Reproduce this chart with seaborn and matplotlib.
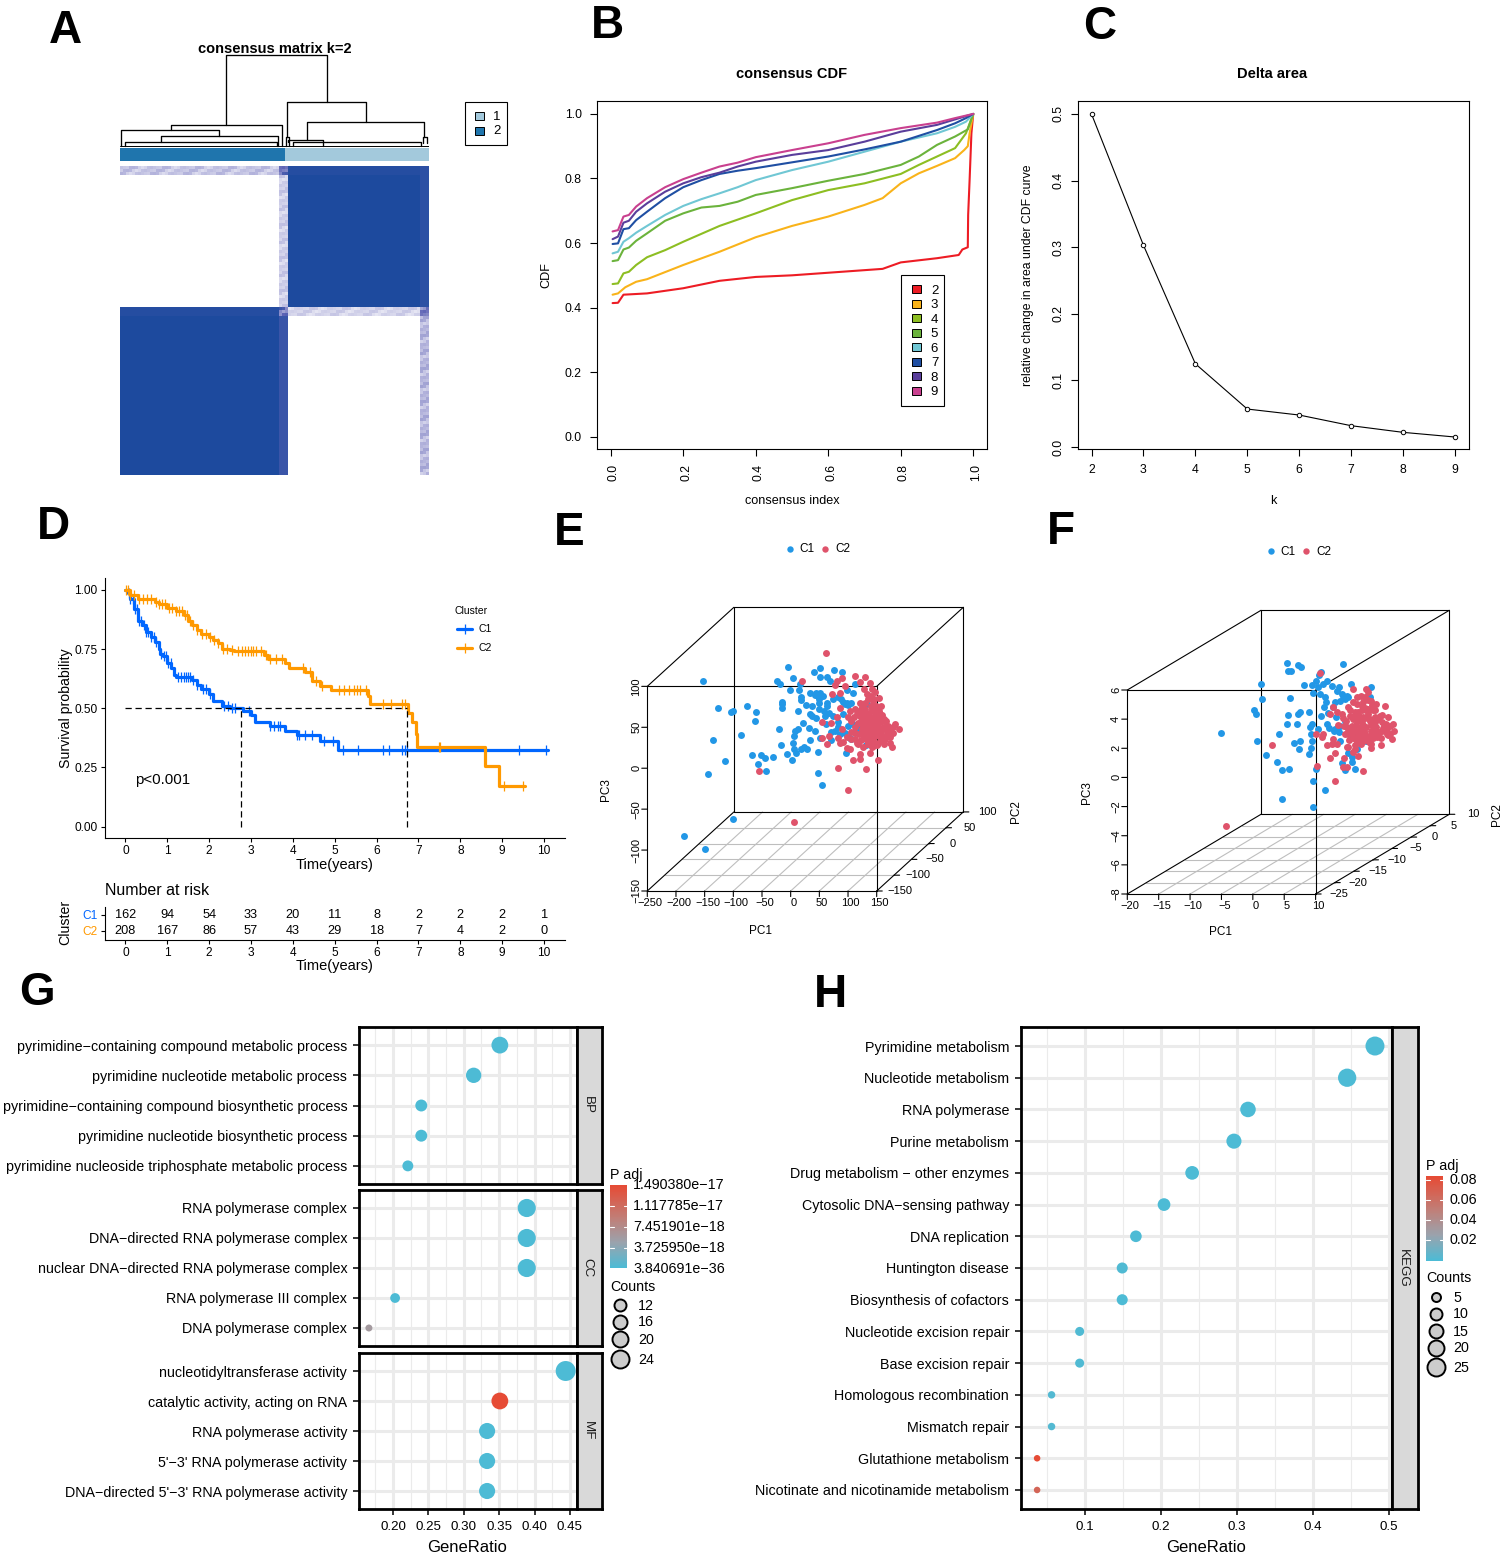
import numpy as np
import pandas as pd
import matplotlib
matplotlib.use("Agg")
import matplotlib.pyplot as plt
from matplotlib.colors import LinearSegmentedColormap, ListedColormap
from matplotlib.patches import Rectangle
from matplotlib.transforms import ScaledTranslation
import seaborn as sns

W, H = 1507, 1559

# ----------------------
# Panel A data
# ----------------------
row_sizes = [3, 44, 3, 53]
col_sizes = [53, 3, 44, 3]
block_values = [
    [0.24, 0.62, 0.96, 0.92],
    [0.00, 0.20, 1.00, 0.92],
    [0.96, 0.66, 0.18, 0.62],
    [1.00, 0.86, 0.00, 0.30],
]
texture = [1.0, 0.72, 1.2, 0.85, 1.1, 0.6, 1.3, 0.9, 1.05, 0.78, 1.25]
anno_clusters = [2, 1]
anno_sizes = [55, 48]
dend_left = [377, 212, 62, 184, 75, 562, 620, 565, 580, 968, 558]
dend_right = [680, 545, 358, 535, 530, 797, 973, 670, 962, 980, 567]
dend_top = [76, 286, 301, 319, 337, 217, 277, 331, 337, 320, 320]
dend_left_low = [286, 301, 347, 337, 347, 320, 331, 337, 347, 340, 347]
dend_right_low = [217, 347, 319, 347, 347, 277, 320, 347, 347, 340, 347]

# ----------------------
# Panel B / C data
# ----------------------
cdf_k = ["2", "3", "4", "5", "6", "7", "8", "9"]
cdf_colors = ["#ED1C24", "#F9B31A", "#8DBE22", "#6BB33C", "#70C7D4", "#1F4FA3", "#5A3E9B", "#C9408F"]
idx_k2 = [0.005, 0.02, 0.035, 0.1, 0.2, 0.3, 0.4, 0.5, 0.6, 0.7, 0.75, 0.8, 0.9, 0.96, 0.97, 0.985, 0.986, 0.99, 0.995, 1.0]
cdf_k2 = [0.414, 0.415, 0.44, 0.444, 0.46, 0.483, 0.495, 0.50, 0.508, 0.516, 0.52, 0.54, 0.553, 0.563, 0.58, 0.587, 0.687, 0.795, 0.94, 1.0]
idx_k3 = [0.005, 0.02, 0.04, 0.07, 0.1, 0.2, 0.3, 0.4, 0.5, 0.6, 0.7, 0.75, 0.8, 0.85, 0.9, 0.95, 0.975, 0.985, 0.99, 1.0]
cdf_k3 = [0.44, 0.444, 0.463, 0.48, 0.488, 0.532, 0.573, 0.618, 0.653, 0.682, 0.718, 0.739, 0.785, 0.816, 0.839, 0.863, 0.888, 0.90, 0.94, 1.0]
idx_k4 = [0.005, 0.02, 0.035, 0.05, 0.07, 0.1, 0.15, 0.2, 0.3, 0.4, 0.5, 0.6, 0.7, 0.8, 0.85, 0.9, 0.95, 0.98, 1.0]
cdf_k4 = [0.473, 0.475, 0.506, 0.511, 0.532, 0.556, 0.578, 0.604, 0.653, 0.692, 0.733, 0.764, 0.785, 0.814, 0.842, 0.868, 0.894, 0.94, 1.0]
idx_k5 = [0.005, 0.02, 0.035, 0.05, 0.07, 0.1, 0.15, 0.2, 0.25, 0.3, 0.35, 0.4, 0.5, 0.6, 0.7, 0.8, 0.85, 0.9, 0.95, 0.985, 1.0]
cdf_k5 = [0.544, 0.547, 0.58, 0.586, 0.607, 0.63, 0.669, 0.692, 0.71, 0.715, 0.728, 0.749, 0.77, 0.793, 0.814, 0.842, 0.868, 0.904, 0.93, 0.952, 1.0]
idx_k6 = [0.005, 0.02, 0.035, 0.05, 0.07, 0.1, 0.15, 0.2, 0.25, 0.3, 0.35, 0.4, 0.5, 0.6, 0.7, 0.8, 0.9, 0.95, 0.98, 1.0]
cdf_k6 = [0.568, 0.573, 0.604, 0.615, 0.632, 0.653, 0.687, 0.715, 0.736, 0.754, 0.773, 0.795, 0.826, 0.852, 0.883, 0.914, 0.94, 0.96, 0.976, 1.0]
idx_k7 = [0.005, 0.02, 0.035, 0.05, 0.07, 0.1, 0.15, 0.2, 0.25, 0.3, 0.35, 0.4, 0.5, 0.6, 0.7, 0.8, 0.9, 0.95, 0.98, 1.0]
cdf_k7 = [0.597, 0.599, 0.643, 0.646, 0.671, 0.697, 0.739, 0.773, 0.795, 0.814, 0.824, 0.832, 0.85, 0.868, 0.89, 0.914, 0.95, 0.971, 0.987, 1.0]
idx_k8 = [0.005, 0.02, 0.035, 0.05, 0.07, 0.1, 0.15, 0.2, 0.25, 0.3, 0.35, 0.4, 0.5, 0.6, 0.7, 0.8, 0.9, 0.95, 1.0]
cdf_k8 = [0.612, 0.62, 0.663, 0.669, 0.697, 0.723, 0.759, 0.785, 0.804, 0.818, 0.837, 0.852, 0.873, 0.888, 0.914, 0.945, 0.966, 0.983, 1.0]
idx_k9 = [0.005, 0.02, 0.035, 0.05, 0.07, 0.1, 0.15, 0.2, 0.25, 0.3, 0.35, 0.4, 0.5, 0.6, 0.7, 0.8, 0.9, 0.95, 1.0]
cdf_k9 = [0.636, 0.64, 0.682, 0.687, 0.713, 0.739, 0.773, 0.798, 0.818, 0.837, 0.849, 0.866, 0.888, 0.909, 0.935, 0.956, 0.973, 0.987, 1.0]
cdf_idx = [idx_k2, idx_k3, idx_k4, idx_k5, idx_k6, idx_k7, idx_k8, idx_k9]
cdf_vals = [cdf_k2, cdf_k3, cdf_k4, cdf_k5, cdf_k6, cdf_k7, cdf_k8, cdf_k9]

delta_k = [2, 3, 4, 5, 6, 7, 8, 9]
delta_area = [0.5, 0.303, 0.125, 0.057, 0.048, 0.032, 0.022, 0.015]

# ----------------------
# Panel D data
# ----------------------
c1_time = [0, 0.05, 0.1, 0.2, 0.3, 0.4, 0.5, 0.6, 0.7, 0.8, 0.82, 0.9, 1.0, 1.1, 1.15, 1.2, 1.6, 1.7, 1.8, 2.0, 2.1, 2.3, 2.5, 2.8, 3.0, 3.1, 3.45, 3.8, 4.1, 4.65, 5.08, 10.1]
c1_surv = [1.0, 0.985, 0.96, 0.92, 0.87, 0.85, 0.82, 0.80, 0.78, 0.75, 0.73, 0.72, 0.69, 0.67, 0.64, 0.63, 0.62, 0.60, 0.58, 0.56, 0.53, 0.51, 0.50, 0.49, 0.47, 0.44, 0.425, 0.405, 0.385, 0.36, 0.325, 0.325]
c2_time = [0, 0.1, 0.3, 0.7, 0.8, 1.0, 1.2, 1.4, 1.5, 1.6, 1.7, 1.8, 2.0, 2.1, 2.2, 2.3, 2.5, 2.6, 3.3, 3.4, 3.8, 3.9, 4.3, 4.45, 4.65, 4.9, 5.8, 5.85, 6.75, 6.85, 6.93, 6.97, 8.58, 8.93, 9.55]
c2_surv = [1.0, 0.98, 0.96, 0.95, 0.94, 0.925, 0.91, 0.895, 0.87, 0.85, 0.83, 0.815, 0.80, 0.79, 0.775, 0.75, 0.745, 0.74, 0.725, 0.71, 0.69, 0.67, 0.655, 0.615, 0.595, 0.575, 0.55, 0.52, 0.48, 0.44, 0.39, 0.335, 0.255, 0.17, 0.17]
c1_censor = [0.08, 0.12, 0.18, 0.22, 0.28, 0.33, 0.38, 0.45, 0.5, 0.55, 0.62, 0.68, 0.72, 0.85, 0.92, 0.97, 1.02, 1.08, 1.25, 1.32, 1.4, 1.45, 1.5, 1.55, 1.62, 1.72, 1.85, 1.92, 2.02, 2.35, 2.45, 2.55, 2.62, 2.95, 3.45, 3.55, 3.65, 3.7, 4.1, 4.15, 4.3, 4.45, 4.75, 4.95, 5.2, 5.55, 6.15, 6.3, 6.6, 6.68, 6.72, 9.4, 10.05]
c2_censor = [0.02, 0.05, 0.12, 0.2, 0.32, 0.42, 0.52, 0.62, 0.72, 0.8, 0.88, 0.95, 1.05, 1.12, 1.2, 1.28, 1.35, 1.42, 1.48, 1.55, 1.62, 1.72, 1.82, 1.92, 2.02, 2.12, 2.22, 2.32, 2.42, 2.55, 2.7, 2.78, 2.85, 2.92, 3.0, 3.05, 3.12, 3.25, 3.35, 3.45, 3.6, 3.75, 4.25, 4.4, 4.55, 4.7, 5.1, 5.22, 5.35, 5.45, 5.52, 5.6, 5.75, 6.15, 6.35, 6.6, 6.68, 7.48, 7.52, 9.05, 9.5]
median_c1 = 2.75
median_c2 = 6.72
risk_c1 = [162, 94, 54, 33, 20, 11, 8, 2, 2, 2, 1]
risk_c2 = [208, 167, 86, 57, 43, 29, 18, 7, 4, 2, 0]
risk_times = list(range(11))

# ----------------------
# Panel E data (PC1 / PC3 as seen on the projected box)
# ----------------------
e_c1_x = [-153, -127, -104, -100, -76, -60, -62, -87, -135, -115, -144, -67, -52, -44, -31, -57, -43, -100, -185.5, -149.5,
          47, 55, 2, -7, 9, -17.5, 3.5, 6, 17.5, 28, 23, 48, 34, 6, 7.5, 13, -20, 32, 22, 42.5, 51, -5, 51, 40, 75, 90,
          4, 52, 63, 68, -24, -19, 16, -2, 14.5, 18, 18, -15, -15, -15, 13, 26, 34, 45, 51, 50, 49, 49, 37, 34, 38, 45,
          62, 60, 63, 64, 73, 83, 92, 98, 106, 109, 98, 112, 74.5, 83, 92, 100.5, 109, 77, 83, 95, 103.5, 70, 106, 132.5,
          131, 96, 124, 115, 43, 47, 56, 58, 67, 88, 94, 100, 70, 86]
e_c1_z = [106.5, 73, 69, 70, 76, 68.5, 57.5, 41, 35, 9, -7.5, 16.5, 16.5, 12.5, 14, 5, -4, -61.5, -82.5, -98.5,
          -6, -21, 10, 17, 18, 28, 30.5, 24, 23, 24, 26, 20, 35, 39, 46, 48.5, 48.5, 49, 55, 45, 37.5, 124, 122.5, 117, 120, 117,
          110.5, 112, 111.5, 106, 106, 103, 103, 95, 95.5, 87, 83, 81.5, 78, 73.5, 70.5, 77.5, 92, 92, 92, 84.5, 80, 72, 76, 66, 64, 61,
          54, 64, 76, 80, 84, 86.5, 81, 79.5, 80, 92.5, 95, 103, 64, 57, 66, 52, 54, 45.5, 50, 43.5, 37.5, 35, 36, 78,
          28, 19, 52, 47.5, 90, 88, 88, 70, 68, 84, 78, 77, 44, 42]
e_c2_x = [62, 20, 113, 129, 90, 80, 77, 95, 121, 138, 127, 141, 147, 153.5, 132.5, 71.5, 86, 144, 157, 121, 112, 103.5, 86, 80, 100.5,
          54, 70, 121, 132.5, 144, 156, 162, 170, 182, 189, 179, 167, 173, 177, 162, 153, 144, 138, 130, 132.5, 141, 150, 150, 159,
          141, 127, 115, 106, 98, 103.5, 86, 63, 54, 66, 83, 112, 138, 121, 109, 121, 153, 83, 131, 99.5, -56, 6, 135, 147, 135, 147,
          127, 124, 135, 144, 156, 132.5, 144, 170, 125, 130, 138, 145, 152, 158, 165, 125, 132, 140, 148, 155, 162, 128, 136, 143,
          151, 118, 122, 128, 134, 140, 146, 152,
          105, 110, 115, 120, 125, 130, 135, 140, 112, 118, 124, 130, 136, 142, 148, 154, 160, 166, 172, 178, 120, 126, 132, 138, 144, 150,
          156, 162, 168, 174, 122, 128, 134, 140, 146, 152, 158, 164, 112, 118, 126, 134, 142, 150, 158, 138, 146, 154, 105, 98, 92, 90]
e_c2_z = [141, 106, 113, 112, 110, 107, 102, 101, 105, 104, 97, 97, 93, 86, 91, 91, 92.5, 82.5, 76, 80, 72, 70, 73, 63, 62,
          57, 55, 64, 66, 70, 66, 60, 52, 54, 48.5, 43.5, 39.5, 31, 26.5, 29, 31, 33, 39.5, 47.5, 56, 52, 47.5, 58, 47.5,
          43.5, 37.5, 31, 35.5, 25, 23, 31, 29, 37.5, 39.5, 37.5, 43.5, 19, 17, 10, 11.5, 10, 0, -1.5, -26, -4, -66, 29, 39.5, 60, 64,
          60, 47.5, 47.5, 45.5, 39.5, 35, 27, 43.5, 70, 72, 62, 55, 42, 36, 58, 54, 50, 44, 68, 60, 50, 40, 36, 32,
          28, 66, 58, 52, 46, 76, 84, 74,
          58, 62, 66, 70, 75, 80, 85, 88, 50, 55, 60, 64, 68, 72, 76, 70, 65, 58, 48, 50, 42, 45, 50, 54, 58, 62,
          56, 50, 44, 38, 34, 38, 42, 46, 50, 54, 42, 36, 36, 30, 26, 30, 26, 30, 34, 34, 38, 44, 44, 38, 32, 48]

# ----------------------
# Panel F data
# ----------------------
f_c1_x = [-5.0, 1.3, 1.45, 0.2, 0.5, 0.7, 2.1, 3.9, 4.65, 5.75, 4.65, 4.15, 5.4, 7.0, 5.6, 7.25, 7.5, 8.9, 6.0, 5.5, 5.65, 6.1, 7.2, 7.65,
          14.35, 10.85, 10.6, 10.05, 9.35, 8.1, 9.65, 10.45, 11.75, 11.2, 12.55, 13.8, 15.6, 18.8, 10.7, 11.5, 11.65, 11.35, 13.35, 14.15,
          14.95, 13.9, 14.7, 13.1, 12.8, 10.85, 12.0, 13.25, 9.35, 9.1, 9.2, 9.5, 6.55, 7.5, 7.35, 9.25, 8.9, 10.05, 9.6, 11.45, 9.6,
          10.45, 11.85, 13.1, 13.9, 14.7, 13.9, 16.0, 16.55, 15.2, 15.85, 15.75, 14.25, 14.7, 16.2, 18.1, 18.65, 13.0, 13.7, 14.4, 12.2, 15.2]
f_c1_z = [3.08, 6.43, 5.38, 4.63, 4.34, 2.49, 1.53, 1.05, 0.5, 0.55, -1.5, 3.0, 3.67, 3.7, 4.3, 4.35, 4.5, 4.5, 5.43, 7.87, 7.32, 7.32, 7.75, 7.55,
          7.8, 7.25, 7.0, 6.65, 6.35, 6.35, 5.8, 6.2, 6.65, 6.4, 6.3, 6.2, 6.4, 6.2, 5.73, 5.5, 5.15, 4.8, 5.95, 5.73,
          5.6, 5.27, 5.38, 5.15, 4.8, 4.2, 4.4, 4.13, 3.7, 3.45, 2.95, 2.53, 2.35, 2.53, 1.96, 2.0, 1.62, 0.55, -0.25, -0.86, -2.0,
          3.33, 3.67, 3.33, 3.56, 3.9, 2.49, 2.76, 1.96, 1.67, 1.4, 1.05, 1.0, 0.48, 0.6, 2.53, 5.5, 3.2, 3.1, 5.6, 3.4, 5.5]
f_c2_x = [10.75, 3.0, -4.35, 15.9, 18.0, 18.4, 12.8, 14.15, 12.3, 15.2, 13.35, 13.6, 10.05, 11.2, 11.0, 12.8, 12.55, 11.85, 13.35, 13.1, 12.3,
          14.5, 14.95, 16.3, 15.9, 16.8, 14.4, 15.0, 17.5, 13.1, 10.3, 18.8, 20.35, 14.7, 16.55, 17.6, 18.9, 19.7, 21.05, 16.3, 17.35, 18.4,
          19.45, 20.25, 21.6, 22.4, 22.5, 22.1, 21.3, 20.5, 19.7, 18.65, 17.6, 16.55, 15.75, 14.95, 17.05, 18.1, 18.9, 17.85, 16.8, 17.6,
          18.65, 16.55, 15.75, 19.45, 18.4, 17.35, 19.45, 20.5, 21.3, 15.5, 18.9, 16.9, 17.9, 18.6, 19.2, 17.2, 16.2, 15.2, 19.9, 20.9,
          15.5, 16, 16.6, 17.2, 17.8, 18.4, 19, 15.9, 16.3, 16.8, 17.4, 18, 18.6, 19.1, 15.2, 15.8, 16.4, 17, 17.6, 18.2, 18.8, 19.3, 20, 20.6,
          15.3, 15.9, 16.5, 17.1, 17.7, 18.3, 18.9, 19.5, 20.1, 20.7, 21.2, 21.8, 16.2, 16.9, 17.3, 17.9, 18.5, 19.1, 19.8, 14.5, 14.9, 15.1,
          14.3, 21.9, 21.5, 20.4]
f_c2_z = [7.2, 2.2, -3.35, 6.07, 6.07, 5.84, 4.8, 4.36, 4.36, 4.8, 4.47, 3.63, 2.95, 3.0, 2.76, 2.65, 2.3, 2.2, 2.3, 1.67, 1.3,
          1.3, 2.08, 1.96, 1.75, 1.5, 0.7, 0.7, 0.44, -0.27, 0.8, 2.0, 2.2, 3.0, 5.04, 5.15, 5.27, 5.04, 4.93, 4.47, 4.6, 4.7,
          4.6, 4.25, 4.13, 3.67, 3.2, 2.65, 3.33, 3.2, 3.45, 3.9, 4.13, 3.9, 3.56, 3.45, 3.45, 3.45, 3.2, 3.0, 3.0, 2.53,
          2.65, 2.42, 3.0, 4.13, 4.36, 3.9, 3.79, 3.79, 3.0, 4.25, 2.3, 4.25, 4.75, 2.85, 3.6, 2.75, 2.7, 2.95, 2.95, 3.55,
          4.6, 5.2, 5.5, 5.6, 5.5, 5.3, 5.0, 4.0, 4.2, 4.5, 4.9, 4.6, 4.0, 4.6, 3.2, 3.3, 3.6, 4.1, 3.6, 4.1, 3.6, 3.4, 4.0, 4.3,
          2.6, 2.7, 3.2, 3.2, 3.2, 2.8, 2.9, 3.1, 3.1, 3.4, 3.7, 3.5, 2.2, 2.5, 2.3, 2.6, 2.4, 2.7, 2.8, 3.5, 3.9, 2.1,
          4.1, 3.0, 2.9, 2.7]

# ----------------------
# Panel G / H data
# ----------------------
bp_terms = ["pyrimidine\u2212containing compound metabolic process", "pyrimidine nucleotide metabolic process",
            "pyrimidine\u2212containing compound biosynthetic process", "pyrimidine nucleotide biosynthetic process",
            "pyrimidine nucleoside triphosphate metabolic process"]
bp_ratio = [0.351, 0.314, 0.24, 0.24, 0.221]
bp_counts = [19, 17, 13, 13, 12]
bp_padj = [1e-30, 1e-30, 1e-24, 1e-24, 1e-22]
cc_terms = ["RNA polymerase complex", "DNA\u2212directed RNA polymerase complex", "nuclear DNA\u2212directed RNA polymerase complex",
            "RNA polymerase III complex", "DNA polymerase complex"]
cc_ratio = [0.389, 0.389, 0.389, 0.203, 0.166]
cc_counts = [21, 21, 21, 11, 9]
cc_padj = [3.84e-36, 3.84e-36, 3.84e-36, 1e-20, 5.6e-18]
mf_terms = ["nucleotidyltransferase activity", "catalytic activity, acting on RNA", "RNA polymerase activity",
            "5'\u22123' RNA polymerase activity", "DNA\u2212directed 5'\u22123' RNA polymerase activity"]
mf_ratio = [0.444, 0.351, 0.333, 0.333, 0.333]
mf_counts = [24, 19, 18, 18, 18]
mf_padj = [1e-30, 1.49e-17, 1e-30, 1e-30, 1e-30]
go_ticks = [0.20, 0.25, 0.30, 0.35, 0.40, 0.45]
go_minor = [0.175, 0.225, 0.275, 0.325, 0.375, 0.425]
go_bar_labels = ["1.490380e\u221217", "1.117785e\u221217", "7.451901e\u221218", "3.725950e\u221218", "3.840691e\u221236"]
go_count_labels = ["12", "16", "20", "24"]

kegg_terms = ["Pyrimidine metabolism", "Nucleotide metabolism", "RNA polymerase", "Purine metabolism",
              "Drug metabolism \u2212 other enzymes", "Cytosolic DNA\u2212sensing pathway", "DNA replication", "Huntington disease",
              "Biosynthesis of cofactors", "Nucleotide excision repair", "Base excision repair", "Homologous recombination",
              "Mismatch repair", "Glutathione metabolism", "Nicotinate and nicotinamide metabolism"]
kegg_ratio = [0.4816, 0.445, 0.3145, 0.296, 0.241, 0.204, 0.167, 0.149, 0.149, 0.093, 0.093, 0.056, 0.056, 0.037, 0.037]
kegg_counts = [26, 24, 17, 16, 13, 11, 9, 8, 8, 5, 5, 3, 3, 2, 2]
kegg_padj = [1e-9, 1e-9, 1e-6, 1e-9, 1e-5, 1e-4, 1e-5, 1e-3, 1e-4, 1e-3, 1e-3, 2e-3, 2e-3, 0.085, 0.068]
kegg_ticks = [0.1, 0.2, 0.3, 0.4, 0.5]
kegg_minor = [0.05, 0.15, 0.25, 0.35, 0.45]
kegg_bar_labels = ["0.08", "0.06", "0.04", "0.02"]
kegg_count_labels = ["5", "10", "15", "20", "25"]

# ----------------------
# Style
# ----------------------
sns.set_style("ticks", rc={"axes.edgecolor": "black", "text.color": "black", "xtick.color": "black",
                           "ytick.color": "black", "axes.labelcolor": "black"})
plt.rcParams["font.family"] = ["Liberation Sans", "DejaVu Sans"]
plt.rcParams["axes.linewidth"] = 0.8

PX = 0.72
C_BLUE, C_RED = "#2297E6", "#DF536B"
KM_BLUE, KM_ORANGE = "#0066FF", "#FF9900"
padj_cmap = LinearSegmentedColormap.from_list("padj", [(0, "#4DBBD5"), (0.3, "#9AA3AD"), (0.6, "#C07F78"), (1, "#E64B35")])
consensus_cmap = LinearSegmentedColormap.from_list("cons", [(0, "#FFFFFF"), (0.3, "#B4B4DC"), (0.7, "#5C62B4"), (1, "#1D4A9E")])

fig = plt.figure(figsize=(W / 100, H / 100), dpi=100, facecolor="white")


def add_ax(left, top, right, bottom, **kw):
    return fig.add_axes([left / W, 1 - bottom / H, (right - left) / W, (bottom - top) / H], **kw)


overlay = add_ax(0, 0, W, H, zorder=20)
overlay.set_xlim(0, W)
overlay.set_ylim(H, 0)
overlay.axis("off")
overlay.patch.set_alpha(0)
overlay.autoscale(False)


def label(x, y, s, size=9, **kw):
    kw.setdefault("ha", "center")
    kw.setdefault("va", "center")
    overlay.text(x, y, s, fontsize=size, **kw)


def nudge_labels(labels, dx_px=0, dy_px=0):
    # move tick labels by a few pixels, the rotated ones sit off centre
    shift = ScaledTranslation(dx_px / 100, dy_px / 100, fig.dpi_scale_trans)
    for t in labels:
        t.set_transform(t.get_transform() + shift)


# ----------------------
# Panel letters
# ----------------------
for letter, lx, ly in [("A", 65, 31), ("B", 607, 26), ("C", 1100, 27), ("D", 53, 527),
                       ("E", 569, 533), ("F", 1061, 532), ("G", 37, 993), ("H", 830, 995)]:
    label(lx, ly, letter, size=33, fontweight="bold")

# ----------------------
# Panel A
# ----------------------
matrix = np.repeat(np.repeat(np.array(block_values, dtype=float), row_sizes, axis=0), col_sizes, axis=1)
for r in range(matrix.shape[0]):
    for c in range(matrix.shape[1]):
        if 0.02 < matrix[r, c] < 0.7:
            matrix[r, c] *= texture[(r * 3 + c * 7) % len(texture)]
ax_heat = add_ax(120, 166, 429, 475)
sns.heatmap(np.clip(matrix, 0, 1), ax=ax_heat, cmap=consensus_cmap, vmin=0, vmax=1, cbar=False,
            xticklabels=False, yticklabels=False)
ax_heat.tick_params(length=0)

anno = np.repeat(np.array(anno_clusters), anno_sizes).reshape(1, -1)
ax_anno = add_ax(120, 148, 429, 161)
sns.heatmap(anno, ax=ax_anno, cmap=ListedColormap(["#A3C9DC", "#1F75AD"]), cbar=False,
            xticklabels=False, yticklabels=False)
ax_anno.tick_params(length=0)

ax_dend = add_ax(120, 54, 429, 148)
ax_dend.set_xlim(60, 987)
ax_dend.set_ylim(354, 72)
ax_dend.axis("off")
for xl, xr, yt, yl, yr in zip(dend_left, dend_right, dend_top, dend_left_low, dend_right_low):
    ax_dend.plot([xl, xl, xr, xr], [yl, yt, yt, yr], color="black", lw=0.95, clip_on=False)
sns.lineplot(x=[60, 987], y=[347, 347], ax=ax_dend, color="black", lw=0.7)
label(274.5, 49, "consensus matrix k=2", size=10.5, fontweight="bold")

overlay.add_patch(Rectangle((464.5, 101.5), 42, 43, fill=False, ec="black", lw=0.8))
overlay.add_patch(Rectangle((474.5, 111.5), 9, 8, fc="#A3C9DC", ec="black", lw=0.7))
overlay.add_patch(Rectangle((474.5, 126.5), 9, 8, fc="#1F75AD", ec="black", lw=0.7))
label(497, 117, "1", size=9.5)
label(497, 131, "2", size=9.5)

# ----------------------
# Panel B
# ----------------------
ax_cdf = add_ax(597, 101, 987, 449)
for name, color, xs, ys in zip(cdf_k, cdf_colors, cdf_idx, cdf_vals):
    sns.lineplot(x=xs, y=ys, ax=ax_cdf, color=color, lw=1.5, estimator=None, errorbar=None)
ax_cdf.set_xlim(-0.038, 1.038)
ax_cdf.set_ylim(-0.038, 1.04)
ax_cdf.set_xticks([0, 0.2, 0.4, 0.6, 0.8, 1.0])
ax_cdf.set_xticklabels(["0.0", "0.2", "0.4", "0.6", "0.8", "1.0"], rotation=90, fontsize=8.8)
ax_cdf.set_yticks([0, 0.2, 0.4, 0.6, 0.8, 1.0])
ax_cdf.set_yticklabels(["0.0", "0.2", "0.4", "0.6", "0.8", "1.0"], fontsize=8.8)
ax_cdf.tick_params(length=5, width=0.8, pad=6)
nudge_labels(ax_cdf.get_xticklabels(), dx_px=3)
label(792, 74, "consensus CDF", size=10.5, fontweight="bold")
label(792, 501, "consensus index", size=9.1)
label(546, 275, "CDF", size=9.1, rotation=90)
overlay.add_patch(Rectangle((900.5, 274.5), 43, 131, fill=False, ec="black", lw=0.8))
for i, (name, color) in enumerate(zip(cdf_k, cdf_colors)):
    overlay.add_patch(Rectangle((911.5, 285 + i * 14.5), 9, 8, fc=color, ec="black", lw=0.7))
    label(934.5, 290.5 + i * 14.5, name, size=9.5)

# ----------------------
# Panel C
# ----------------------
ax_delta = add_ax(1078, 101, 1469, 449)
sns.lineplot(x=delta_k, y=delta_area, ax=ax_delta, color="black", lw=0.8, marker="o", markersize=3.2,
             markerfacecolor="white", markeredgecolor="black", markeredgewidth=0.7, errorbar=None)
ax_delta.set_xlim(1.74, 9.27)
ax_delta.set_ylim(-0.003, 0.5195)
ax_delta.set_xticks(delta_k)
ax_delta.set_xticklabels([str(k) for k in delta_k], fontsize=8.8)
ax_delta.set_yticks([0, 0.1, 0.2, 0.3, 0.4, 0.5])
ax_delta.set_yticklabels(["0.0", "0.1", "0.2", "0.3", "0.4", "0.5"], rotation=90, va="center", fontsize=8.8)
ax_delta.tick_params(length=5, width=0.8, pad=6)
nudge_labels(ax_delta.get_yticklabels(), dx_px=2)
label(1272, 74, "Delta area", size=10.5, fontweight="bold")
label(1273, 501, "k", size=9.1)
label(1028, 275, "relative change in area under CDF curve", size=8.8, rotation=90)

# ----------------------
# Panel D
# ----------------------
ax_km = add_ax(104.5, 578, 565, 838)
sns.despine(ax=ax_km)
for times, surv, censor, color in [(c1_time, c1_surv, c1_censor, KM_BLUE), (c2_time, c2_surv, c2_censor, KM_ORANGE)]:
    sns.lineplot(x=times, y=surv, ax=ax_km, color=color, lw=2.3, drawstyle="steps-post", estimator=None, errorbar=None)
    pos = np.searchsorted(times, censor, side="right") - 1
    ax_km.plot(censor, np.array(surv)[pos], ls="none", marker="|", ms=6.5, mew=0.9, color=color)
ax_km.plot([0, median_c2], [0.5, 0.5], color="black", lw=0.9, dashes=(5, 3))
ax_km.plot([median_c1, median_c1], [0, 0.5], color="black", lw=0.9, dashes=(5, 3))
ax_km.plot([median_c2, median_c2], [0, 0.5], color="black", lw=0.9, dashes=(5, 3))
ax_km.set_xlim(-0.5, 10.5)
ax_km.set_ylim(-0.048, 1.05)
ax_km.set_xticks(risk_times)
ax_km.set_yticks([0, 0.25, 0.5, 0.75, 1.0])
ax_km.set_yticklabels(["0.00", "0.25", "0.50", "0.75", "1.00"])
ax_km.tick_params(labelsize=8.6, length=3, width=0.8, pad=2)
ax_km.text(0.22, 0.195, "p<0.001", fontsize=10.8, va="center")
label(335, 865, "Time(years)", size=10.5)
label(66, 708, "Survival probability", size=10.2, rotation=90)
label(471.5, 610.5, "Cluster", size=7.5)
for ly, name, color in [(629, "C1", KM_BLUE), (647.5, "C2", KM_ORANGE)]:
    overlay.plot([457, 472], [ly, ly], color=color, lw=2.3)
    overlay.plot([464.5], [ly], marker="|", ms=6.5, mew=0.9, color=color)
    label(485, ly, name, size=7.5)

ax_risk = add_ax(104.5, 906.5, 565, 940)
sns.despine(ax=ax_risk)
ax_risk.set_xlim(-0.5, 10.5)
ax_risk.set_ylim(-0.59, 1.53)
ax_risk.set_xticks(risk_times)
ax_risk.set_yticks([0, 1])
ax_risk.set_yticklabels(["C2", "C1"])
ax_risk.get_yticklabels()[0].set_color(KM_ORANGE)
ax_risk.get_yticklabels()[1].set_color(KM_BLUE)
ax_risk.tick_params(labelsize=8.6, length=3, width=0.8, pad=2)
for t, a, b in zip(risk_times, risk_c1, risk_c2):
    ax_risk.text(t, 1, str(a), ha="center", va="center", fontsize=9.2)
    ax_risk.text(t, 0, str(b), ha="center", va="center", fontsize=9.2)
label(105, 890, "Number at risk", size=11.5, ha="left")
label(335, 966, "Time(years)", size=10.5)
label(65, 922, "Cluster", size=10.2, rotation=90)


# ----------------------
# Panels E, F
# ----------------------
def box3d(ax, xt, zt, yt, dx, dz, c1x, c1z, c2x, c2z, xoff):
    x0, x1, z0, z1 = xt[0], xt[-1], zt[0], zt[-1]
    ax.set_xlim(x0, x1 + dx)
    ax.set_ylim(z0, z1 + dz)
    ax.axis("off")
    n = len(yt) - 1
    for i in range(1, n):
        f = i / n
        ax.plot([x0 + dx * f, x1 + dx * f], [z0 + dz * f, z0 + dz * f], color="#BEBEBE", lw=0.8)
    for t in xt[1:-1]:
        ax.plot([t, t + dx], [z0, z0 + dz], color="#BEBEBE", lw=0.8)
    ax.plot([x0, x1, x1, x0, x0], [z0, z0, z1, z1, z0], color="black", lw=0.8, clip_on=False)
    ax.plot([x0 + dx, x1 + dx, x1 + dx, x0 + dx, x0 + dx],
            [z0 + dz, z0 + dz, z1 + dz, z1 + dz, z0 + dz], color="black", lw=0.8, clip_on=False)
    for xa, za in [(x0, z0), (x1, z0), (x0, z1), (x1, z1)]:
        ax.plot([xa, xa + dx], [za, za + dz], color="black", lw=0.8, clip_on=False)
    for t in xt:
        ax.annotate("", (t, z0), xytext=(0, -4), textcoords="offset points",
                    arrowprops=dict(arrowstyle="-", lw=0.8, color="black", shrinkA=0, shrinkB=0), annotation_clip=False)
        ax.annotate(str(t).replace("-", "\u2212"), (t, z0), xytext=(xoff, -8.5), textcoords="offset points",
                    ha="center", va="center", fontsize=8, annotation_clip=False)
    for t in zt:
        ax.annotate("", (x0, t), xytext=(-4, 0), textcoords="offset points",
                    arrowprops=dict(arrowstyle="-", lw=0.8, color="black", shrinkA=0, shrinkB=0), annotation_clip=False)
        ax.annotate(str(t).replace("-", "\u2212"), (x0, t), xytext=(-8, 0), textcoords="offset points",
                    rotation=90, ha="center", va="center", fontsize=8, annotation_clip=False)
    for i, t in enumerate(yt):
        f = i / n
        xa, za = x1 + dx * f, z0 + dz * f
        ax.annotate("", (xa, za), xytext=(4, 0), textcoords="offset points",
                    arrowprops=dict(arrowstyle="-", lw=0.8, color="black", shrinkA=0, shrinkB=0), annotation_clip=False)
        ax.annotate(str(t).replace("-", "\u2212"), (xa, za), xytext=(17, 0), textcoords="offset points",
                    ha="center", va="center", fontsize=8, annotation_clip=False)
    sns.scatterplot(x=c1x, y=c1z, ax=ax, color=C_BLUE, s=25, linewidth=0, zorder=5, clip_on=False, legend=False)
    sns.scatterplot(x=c2x, y=c2z, ax=ax, color=C_RED, s=25, linewidth=0, zorder=6, clip_on=False, legend=False)
    ax.set_xlabel("")
    ax.set_ylabel("")


ax_e = add_ax(647.3, 607.3, 963.3, 891)
box3d(ax_e, [-250, -200, -150, -100, -50, 0, 50, 100, 150], [-150, -100, -50, 0, 50, 100], [-150, -100, -50, 0, 50, 100],
      151, 96.6, e_c1_x, e_c1_z, e_c2_x, e_c2_z, 2)
label(761, 931, "PC1", size=8.5)
label(606, 790, "PC3", size=8.5, rotation=90)
label(1016, 812, "PC2", size=8.5, rotation=90)
overlay.plot([790], [548.7], marker="o", ms=4.6, mew=0, color=C_BLUE)
overlay.plot([825], [548.7], marker="o", ms=4.6, mew=0, color=C_RED)
label(807, 549, "C1", size=8.5)
label(842.5, 549, "C2", size=8.5)

ax_f = add_ax(1127.3, 610.3, 1449.3, 894)
box3d(ax_f, [-20, -15, -10, -5, 0, 5, 10], [-8, -6, -4, -2, 0, 2, 4, 6], [-25, -20, -15, -10, -5, 0, 5, 10],
      21.3, 5.47, f_c1_x, f_c1_z, f_c2_x, f_c2_z, 2)
label(1220, 932, "PC1", size=8.5)
label(1087, 793, "PC3", size=8.5, rotation=90)
label(1497, 815, "PC2", size=8.5, rotation=90)
overlay.plot([1270.7], [551.3], marker="o", ms=4.6, mew=0, color=C_BLUE)
overlay.plot([1306], [551.3], marker="o", ms=4.6, mew=0, color=C_RED)
label(1287.5, 552, "C1", size=8.5)
label(1323.5, 552, "C2", size=8.5)


# ----------------------
# Panels G, H
# ----------------------
def dot_panel(rect, strip_right, terms, ratio, counts, padj, xlim, ticks, minor, size_norm, sizes, hue_norm, strip, show_x, strip_x):
    ax = add_ax(*rect)
    df = pd.DataFrame({"term": terms, "ratio": ratio, "counts": counts, "padj": padj})
    sns.scatterplot(data=df, x="ratio", y="term", hue="padj", size="counts", palette=padj_cmap, hue_norm=hue_norm,
                    size_norm=size_norm, sizes=sizes, linewidth=0, ax=ax, legend=False, zorder=5, clip_on=False)
    ax.set_xlim(*xlim)
    ax.set_ylim(len(terms) - 0.4, -0.6)
    ax.set_xticks(ticks)
    ax.set_xticks(minor, minor=True)
    ax.set_xlabel("")
    ax.set_ylabel("")
    ax.set_axisbelow(True)
    ax.grid(which="major", color="#EBEBEB", lw=2.2)
    ax.grid(which="minor", axis="x", color="#EBEBEB", lw=0.8)
    ax.tick_params(which="minor", length=0)
    ax.tick_params(which="major", length=4.3, width=1.1, labelsize=10.25, pad=4.2)
    if show_x:
        ax.set_xticklabels([f"{t:.2f}" if len(ticks) > 5 else f"{t:.1f}" for t in ticks], fontsize=9.6)
    else:
        ax.tick_params(axis="x", bottom=False, labelbottom=False)
    for sp in ax.spines.values():
        sp.set_linewidth(2)
    st = add_ax(rect[2], rect[1], strip_right, rect[3], facecolor="#D9D9D9")
    st.set_xticks([])
    st.set_yticks([])
    for sp in st.spines.values():
        sp.set_linewidth(2)
    st.text(strip_x, 0.5, strip, rotation=-90, ha="center", va="center", fontsize=9.6, color="#1A1A1A", transform=st.transAxes)
    return ax


go_xlim = (0.152, 0.46)
go_norm = (3.84e-36, 1.49e-17)
dot_panel((359, 1027, 577, 1184), 602, bp_terms, bp_ratio, bp_counts, bp_padj, go_xlim, go_ticks, go_minor,
          (9, 24), (25.4, 207), go_norm, "BP", False, 0.42)
dot_panel((359, 1190, 577, 1346), 602, cc_terms, cc_ratio, cc_counts, cc_padj, go_xlim, go_ticks, go_minor,
          (9, 24), (25.4, 207), go_norm, "CC", False, 0.42)
dot_panel((359, 1353, 577, 1509), 602, mf_terms, mf_ratio, mf_counts, mf_padj, go_xlim, go_ticks, go_minor,
          (9, 24), (25.4, 207), go_norm, "MF", True, 0.42)
label(467, 1547, "GeneRatio", size=12)

dot_panel((1021, 1027, 1392, 1509), 1418, kegg_terms, kegg_ratio, kegg_counts, kegg_padj, (0.0158, 0.504), kegg_ticks, kegg_minor,
          (2, 26), (22, 187), (1e-9, 0.085), "KEGG", True, 0.42)
label(1206, 1547, "GeneRatio", size=12)

gradient = np.linspace(1, 0, 100).reshape(-1, 1)
ax_bar_g = add_ax(610, 1185, 627, 1268)
sns.heatmap(gradient, ax=ax_bar_g, cmap=padj_cmap, cbar=False, xticklabels=False, yticklabels=False)
ax_bar_h = add_ax(1426, 1176, 1443, 1261)
sns.heatmap(gradient, ax=ax_bar_h, cmap=padj_cmap, cbar=False, xticklabels=False, yticklabels=False)

label(610, 1175, "P adj", size=10.3, ha="left")
for i, (yy, s) in enumerate(zip([1185, 1206, 1227, 1248, 1269], go_bar_labels)):
    label(633, yy, s, size=10.3, ha="left")
    if 0 < i < 4:
        overlay.plot([610, 613.5], [yy, yy], color="white", lw=0.8)
        overlay.plot([623.5, 627], [yy, yy], color="white", lw=0.8)
label(610, 1287, "Counts", size=10.3, ha="left")
for yy, s, d in zip([1305, 1322, 1339, 1359], go_count_labels, [12, 14, 16, 18]):
    overlay.plot([620], [yy], marker="o", ms=d * PX, mfc="#CCCCCC", mec="black", mew=1.4)
    label(638, yy + 0.5, s, size=10.3, ha="left")

label(1426, 1166, "P adj", size=10.3, ha="left")
for yy, s in zip([1180, 1200, 1220, 1240], kegg_bar_labels):
    label(1449, yy, s, size=10.3, ha="left")
    overlay.plot([1426, 1429.5], [yy, yy], color="white", lw=0.8)
    overlay.plot([1439.5, 1443], [yy, yy], color="white", lw=0.8)
label(1426, 1278, "Counts", size=10.3, ha="left")
for yy, s, d in zip([1297, 1314, 1331, 1348, 1367], kegg_count_labels, [9, 12, 14, 16, 18]):
    overlay.plot([1436], [yy], marker="o", ms=d * PX, mfc="#CCCCCC", mec="black", mew=1.4)
    label(1453, yy + 0.5, s, size=10.3, ha="left")

plt.savefig("out.png", dpi=100)
